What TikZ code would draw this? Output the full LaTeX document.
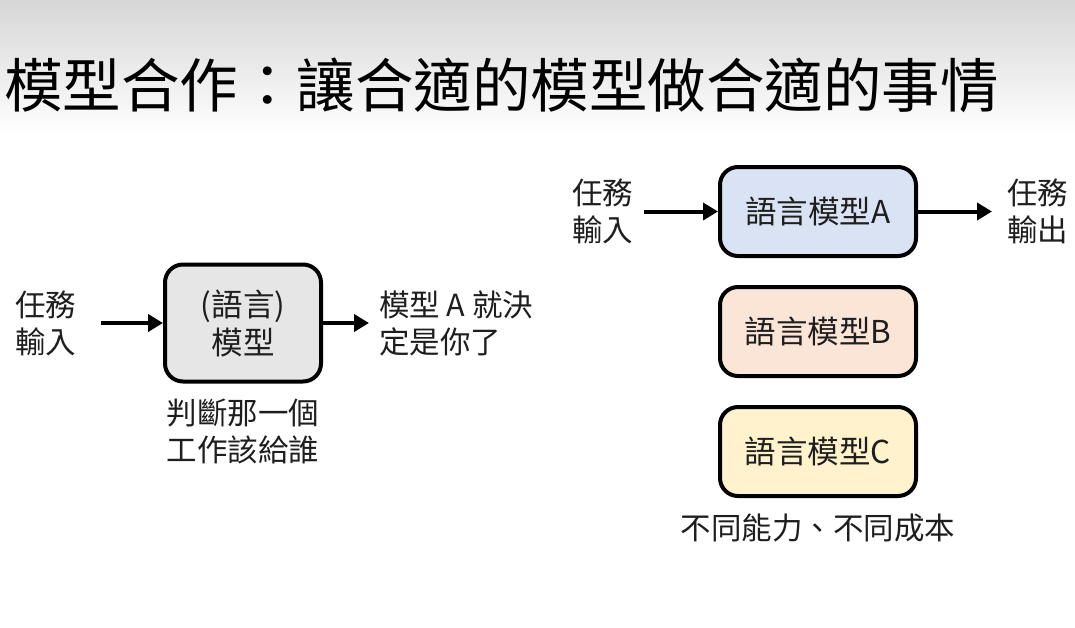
\documentclass[tikz,border=0pt]{standalone}
\usepackage{fontspec}
\setmainfont{Noto Sans CJK TC}
\usetikzlibrary{positioning, arrows.meta}

\definecolor{boxgray}{HTML}{E7E6E6}
\definecolor{boxblue}{HTML}{DAE3F3}
\definecolor{boxpeach}{HTML}{FBE5D6}
\definecolor{boxyellow}{HTML}{FFF2CC}
\definecolor{inkdark}{HTML}{1E1E1E}

\begin{document}
\begin{tikzpicture}[
  x=1pt, y=-1pt,
  model/.style={draw=black, line width=4pt, rounded corners=18pt,
                minimum width=196pt, minimum height=89pt,
                align=center, text=inkdark,
                font=\fontsize{31.5}{38}\selectfont},
  lbl/.style={inner sep=0pt, outer sep=0pt, align=center, text=inkdark,
              font=\fontsize{30.5}{37}\selectfont},
  arr/.style={-{Triangle[length=15pt, width=17pt]}, line width=4pt, black},
]

% ------------------- page and title -------------------
\fill[white] (0,0) rectangle (1075,627);
\shade[top color=black!16, bottom color=white] (0,0) rectangle (1075,135);
\useasboundingbox (0,0) rectangle (1075,627);

\node[inner sep=0pt, anchor=base west, font=\fontsize{58.5}{60}\selectfont]
  (title) at (4,107) {模型合作：讓合適的模型做合適的事情};

% ------------------- LEFT: one model decides -------------------
\node[model, fill=boxgray, minimum width=156pt, minimum height=117pt]
  (router) at (243,323) {(語言)\\模型};

\node[lbl, left=87pt of router] (in0) {任務\\輸入};
\node[lbl, align=left, right=56pt of router] (out0)
  {模型 A 就決\\定是你了};
\node[lbl, below=15pt of router] (note0) {判斷那一個\\工作該給誰};

\draw[arr, shorten <=25pt] (in0) -- (router);
\draw[arr, shorten >=10pt] (router) -- (out0.west |- router.east);

% ------------------- RIGHT: pick among models -------------------
\node[model, fill=boxblue] (lmA) at (818,211.5) {語言模型A};
\node[model, fill=boxpeach, below=27pt of lmA] (lmB) {語言模型B};
\node[model, fill=boxyellow, below=27pt of lmB] (lmC) {語言模型C};

\node[lbl, left=85pt of lmA] (in1) {任務\\輸入};
\node[lbl, right=89pt of lmA] (out1) {任務\\輸出};
\node[lbl, below=16pt of lmC] (cost1) {不同能力、不同成本};

\draw[arr, shorten <=11pt] (in1) -- (lmA);
\draw[arr, shorten >=15pt] (lmA) -- (out1);

\end{tikzpicture}
\end{document}
